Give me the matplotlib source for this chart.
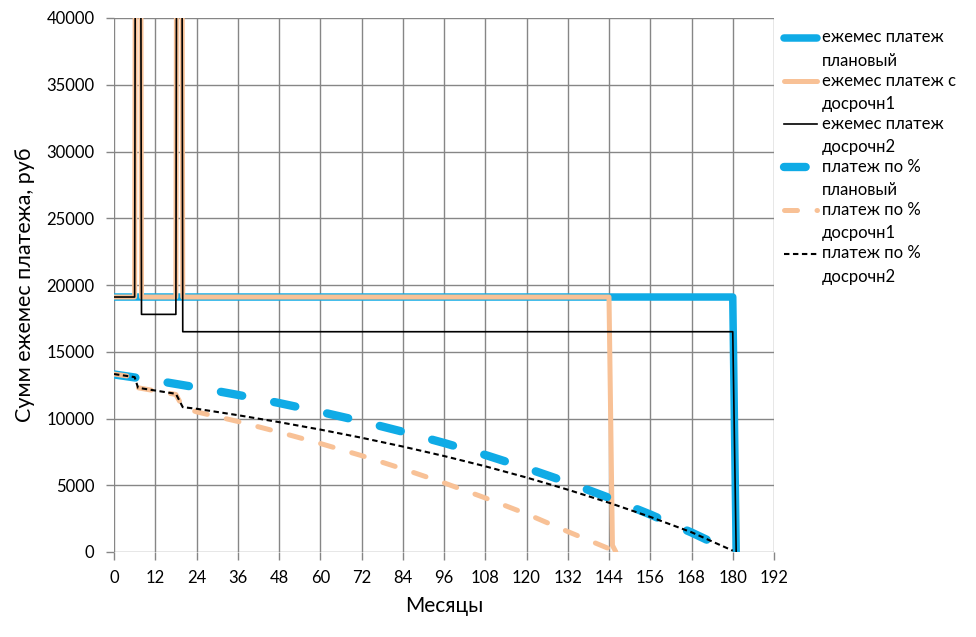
import matplotlib
matplotlib.use('Agg')
import matplotlib.pyplot as plt
from matplotlib.lines import Line2D

plt.rcParams['font.family'] = ['Lato', 'DejaVu Sans']

# ежемесячный платеж (месяц, руб)
plan_pay_m = [0, 180, 181]
plan_pay = [19100, 19100, 0]

early1_pay_m = [0, 6, 7, 8, 18, 19, 20, 144, 145, 146]
early1_pay = [19100, 19100, 150000, 19100, 19100, 150000, 19100, 19100, 500, 0]

early2_pay_m = [0, 6, 7, 8, 18, 19, 20, 180, 181]
early2_pay = [19100, 19100, 150000, 17800, 17800, 150000, 16500, 16500, 0]

# платеж по процентам
plan_int_m = [0, 12, 24, 36, 48, 60, 72, 84, 96, 108, 120, 132, 144, 156, 168, 180]
plan_int = [13300, 12850, 12330, 11770, 11160, 10500, 9790, 9010, 8170, 7270,
            6280, 5220, 4060, 2810, 1460, 0]

early1_int_m = [0, 6, 7, 18, 20, 24, 36, 48, 60, 72, 84, 96, 108, 120, 132, 144]
early1_int = [13330, 13100, 12300, 11800, 10850, 10500, 9780, 8980, 8130, 7220,
              6230, 5180, 4050, 2860, 1530, 250]

early2_int_m = [0, 6, 7, 18, 20, 24, 36, 48, 60, 72, 84, 96, 108, 120, 132, 144,
                156, 168, 180]
early2_int = [13330, 13100, 12300, 11850, 10850, 10730, 10250, 9730, 9170, 8560,
              7900, 7190, 6420, 5580, 4670, 3690, 2630, 1480, 100]

labels = ["ежемес платеж\nплановый", "ежемес платеж с\nдосрочн1",
          "ежемес платеж\nдосрочн2", "платеж по %\nплановый",
          "платеж по %\nдосрочн1", "платеж по %\nдосрочн2"]

BLUE = "#0fabe6"
ORANGE = "#f8c196"
GRID = "#868686"

styles = [
    dict(color=BLUE, lw=5.4, solid_capstyle='round', solid_joinstyle='round'),
    dict(color=ORANGE, lw=3.6, solid_capstyle='round', solid_joinstyle='round'),
    dict(color='black', lw=1.2),
    dict(color=BLUE, lw=6.0, dashes=(2.6, 3.9), dash_capstyle='round'),
    dict(color=ORANGE, lw=3.6, dashes=(2.6, 3.9), dash_capstyle='round'),
    dict(color='black', lw=1.5, dashes=(2.6, 1.7)),
]

series = [(plan_pay_m, plan_pay), (early1_pay_m, early1_pay), (early2_pay_m, early2_pay),
          (plan_int_m, plan_int), (early1_int_m, early1_int), (early2_int_m, early2_int)]

fig = plt.figure(figsize=(9.76, 6.37), dpi=100)
ax = fig.add_axes([114 / 976, 85 / 637, 660 / 976, 534 / 637])

for (xs, ys), st in zip(series, styles):
    ax.plot(xs, ys, **st)

ax.set_xlim(0, 192)
ax.set_ylim(0, 40000)
ax.set_xticks(range(0, 193, 12))
ax.set_yticks(range(0, 40001, 5000))
ax.grid(True, color=GRID, lw=1.0)
ax.set_axisbelow(True)
for s in ax.spines.values():
    s.set_visible(False)
ax.tick_params(axis='both', direction='out', length=6, width=1.0, color=GRID,
               labelsize=12, labelcolor='black')
ax.tick_params(axis='x', pad=7)
ax.tick_params(axis='y', pad=8)
ax.set_xlabel("Месяцы", fontsize=15, labelpad=7)
ax.set_ylabel("Сумм ежемес платежа, руб", fontsize=15.5, labelpad=8)

# легенда справа, вручную: метка на уровне первой строки подписи
lax = fig.add_axes([0, 0, 1, 1])
lax.set_xlim(0, 976)
lax.set_ylim(637, 0)
lax.axis('off')
for i, (lab, st) in enumerate(zip(labels, styles)):
    y = 37.5 + 43.2 * i
    lax.add_line(Line2D([784, 817], [y, y], **st))
    lax.text(822, y - 8, lab, fontsize=12, va='top', ha='left', linespacing=1.55)

fig.savefig("out.png", dpi=100)
